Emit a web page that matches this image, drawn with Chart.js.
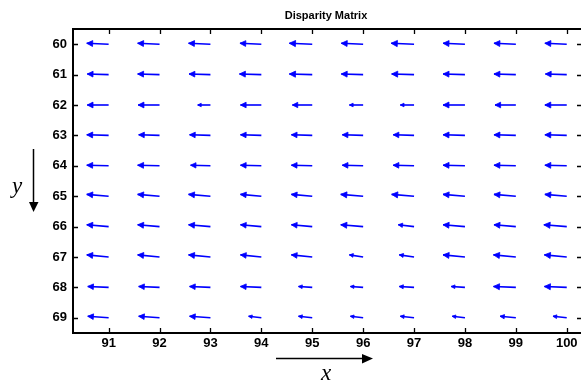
<!DOCTYPE html>
<html>
<head>
<meta charset="utf-8">
<script src="https://cdn.jsdelivr.net/npm/chart.js@4.4.0/dist/chart.umd.min.js"></script>
<style>
  html, body { margin: 0; padding: 0; background: #fff; }
  #wrap { width: 581px; height: 383px; }
</style>
</head>
<body>
<div id="wrap"><canvas id="chart" width="581" height="383"></canvas></div>
<script>
// grid positions (pixel columns x, pixel rows y)
const colX = [91, 92, 93, 94, 95, 96, 97, 98, 99, 100];
const rowY = [60, 61, 62, 63, 64, 65, 66, 67, 68, 69];
const xTicks = [91, 92, 93, 94, 95, 96, 97, 98, 99, 100];
const yTicks = [60, 61, 62, 63, 64, 65, 66, 67, 68, 69];

// horizontal disparity (one row per y)
const uRows = [
  [-0.43, -0.43, -0.43, -0.42, -0.45, -0.43, -0.45, -0.43, -0.43, -0.43],
  [-0.42, -0.43, -0.42, -0.43, -0.45, -0.43, -0.44, -0.43, -0.43, -0.42],
  [-0.42, -0.42, -0.25, -0.41, -0.39, -0.27, -0.27, -0.43, -0.41, -0.43],
  [-0.43, -0.41, -0.41, -0.41, -0.41, -0.41, -0.41, -0.43, -0.43, -0.43],
  [-0.43, -0.43, -0.39, -0.41, -0.41, -0.41, -0.41, -0.43, -0.43, -0.43],
  [-0.43, -0.43, -0.43, -0.41, -0.41, -0.44, -0.44, -0.43, -0.43, -0.43],
  [-0.43, -0.43, -0.43, -0.41, -0.41, -0.44, -0.31, -0.43, -0.43, -0.45],
  [-0.43, -0.43, -0.43, -0.41, -0.41, -0.27, -0.29, -0.43, -0.44, -0.44],
  [-0.41, -0.41, -0.41, -0.41, -0.27, -0.25, -0.29, -0.27, -0.44, -0.44],
  [-0.41, -0.41, -0.41, -0.25, -0.27, -0.25, -0.27, -0.25, -0.31, -0.27]
];

// vertical disparity (one row per y)
const vRows = [
  [-0.03, -0.03, -0.03, -0.03, -0.03, -0.03, -0.03, -0.03, -0.03, -0.03],
  [-0.02, -0.02, -0.02, -0.02, -0.02, -0.02, -0.02, -0.02, -0.02, -0.02],
  [0, 0, 0, 0, 0, 0, 0, 0, 0, 0],
  [-0.02, -0.02, -0.02, -0.02, -0.02, -0.02, -0.02, -0.02, -0.02, -0.02],
  [-0.02, -0.02, -0.02, -0.02, -0.02, -0.02, -0.02, -0.02, -0.02, -0.02],
  [-0.06, -0.06, -0.06, -0.06, -0.06, -0.06, -0.06, -0.06, -0.06, -0.06],
  [-0.06, -0.06, -0.06, -0.06, -0.06, -0.06, -0.06, -0.06, -0.06, -0.06],
  [-0.07, -0.07, -0.07, -0.07, -0.07, -0.07, -0.07, -0.07, -0.07, -0.07],
  [-0.03, -0.03, -0.03, -0.03, -0.03, -0.03, -0.03, -0.03, -0.03, -0.03],
  [-0.05, -0.05, -0.05, -0.05, -0.05, -0.05, -0.05, -0.05, -0.05, -0.05]
];

const BLUE = '#0000ff';

// one small dataset per arrow: tail at the grid point, head at point + (u, v)
const datasets = [];
rowY.forEach((y, i) => {
  colX.forEach((x, j) => {
    datasets.push({
      data: [{ x: x, y: y }, { x: x + uRows[i][j], y: y + vRows[i][j] }],
      showLine: true,
      borderColor: BLUE,
      borderWidth: 1.6,
      pointRadius: 0,
      pointHoverRadius: 0
    });
  });
});

const arrowHeads = {
  id: 'arrowHeads',
  afterDatasetsDraw(chart) {
    const ctx = chart.ctx;
    ctx.save();
    ctx.fillStyle = BLUE;
    ctx.strokeStyle = BLUE;
    ctx.lineWidth = 0.8;
    chart.data.datasets.forEach((ds, i) => {
      const pts = chart.getDatasetMeta(i).data;
      const t = pts[0], h = pts[1];
      const dx = h.x - t.x, dy = h.y - t.y;
      const len = Math.hypot(dx, dy);
      if (!len) return;
      const ux = dx / len, uy = dy / len;
      const hl = Math.max(3.5, len * 0.27);
      const hw = hl * 0.5;
      const bx = h.x - ux * hl, by = h.y - uy * hl;
      ctx.beginPath();
      ctx.moveTo(h.x, h.y);
      ctx.lineTo(bx - uy * hw, by + ux * hw);
      ctx.lineTo(bx + uy * hw, by - ux * hw);
      ctx.closePath();
      ctx.fill();
      ctx.stroke();
    });
    ctx.restore();
  }
};

// axes lines (right side falls just off the page), inward ticks, title, x / y arrows
const frame = {
  id: 'frame',
  afterDraw(chart) {
    const ctx = chart.ctx;
    const a = chart.chartArea;
    const xs = chart.scales.x, ys = chart.scales.y;
    ctx.save();
    ctx.strokeStyle = '#000';
    ctx.lineWidth = 2;
    ctx.beginPath();
    ctx.moveTo(chart.width + 2, a.top); ctx.lineTo(a.left, a.top);
    ctx.lineTo(a.left, a.bottom); ctx.lineTo(chart.width + 2, a.bottom);
    ctx.stroke();

    ctx.lineWidth = 1.3;
    ctx.beginPath();
    xs.ticks.forEach(t => {
      const px = Math.round(xs.getPixelForValue(t.value)) + 0.5;
      ctx.moveTo(px, a.bottom); ctx.lineTo(px, a.bottom - 5);
      ctx.moveTo(px, a.top); ctx.lineTo(px, a.top + 5);
    });
    ys.ticks.forEach(t => {
      const py = Math.round(ys.getPixelForValue(t.value)) + 0.5;
      ctx.moveTo(a.left, py); ctx.lineTo(a.left + 5, py);
      ctx.moveTo(chart.width, py); ctx.lineTo(chart.width - 4, py);
    });
    ctx.stroke();

    ctx.fillStyle = '#000';
    ctx.font = 'bold 11px "Liberation Sans", Arial, sans-serif';
    ctx.textAlign = 'center';
    ctx.textBaseline = 'alphabetic';
    ctx.fillText('Disparity Matrix', 326, 19);

    // y arrow
    ctx.lineWidth = 1.5;
    ctx.beginPath();
    ctx.moveTo(33.5, 149); ctx.lineTo(33.5, 203);
    ctx.stroke();
    ctx.beginPath();
    ctx.moveTo(29, 202); ctx.lineTo(38.5, 202); ctx.lineTo(33.5, 212);
    ctx.closePath(); ctx.fill();

    // x arrow
    ctx.beginPath();
    ctx.moveTo(276, 358.5); ctx.lineTo(363, 358.5);
    ctx.stroke();
    ctx.beginPath();
    ctx.moveTo(362, 354); ctx.lineTo(362, 363.5); ctx.lineTo(373, 358.5);
    ctx.closePath(); ctx.fill();

    ctx.font = 'italic 23px "Liberation Serif", "Times New Roman", serif';
    ctx.textAlign = 'center';
    ctx.fillText('y', 17, 193);
    ctx.fillText('x', 326, 380);
    ctx.restore();
  }
};

const tickFont = { family: '"Liberation Sans", Arial, sans-serif', size: 13, weight: 'bold' };

new Chart(document.getElementById('chart'), {
  type: 'scatter',
  data: { datasets },
  options: {
    responsive: false,
    animation: false,
    events: [],
    layout: { padding: { left: 0, right: 0, top: 29, bottom: 0 } },
    plugins: { legend: { display: false }, title: { display: false }, tooltip: { enabled: false } },
    scales: {
      x: {
        type: 'linear',
        min: 90.3,
        max: 100.28,
        grid: { display: false, drawTicks: false },
        border: { display: false },
        afterBuildTicks: s => { s.ticks = xTicks.map(v => ({ value: v })); },
        afterFit: s => { s.height = 50; },
        ticks: { color: '#000', font: tickFont, padding: 3, maxRotation: 0 }
      },
      y: {
        type: 'linear',
        reverse: true,
        min: 59.5,
        max: 69.5,
        grid: { display: false, drawTicks: false },
        border: { display: false },
        afterBuildTicks: s => { s.ticks = yTicks.map(v => ({ value: v })); },
        afterFit: s => { s.width = 73; },
        ticks: { color: '#000', font: tickFont, padding: 6 }
      }
    }
  },
  plugins: [arrowHeads, frame]
});
</script>
</body>
</html>
